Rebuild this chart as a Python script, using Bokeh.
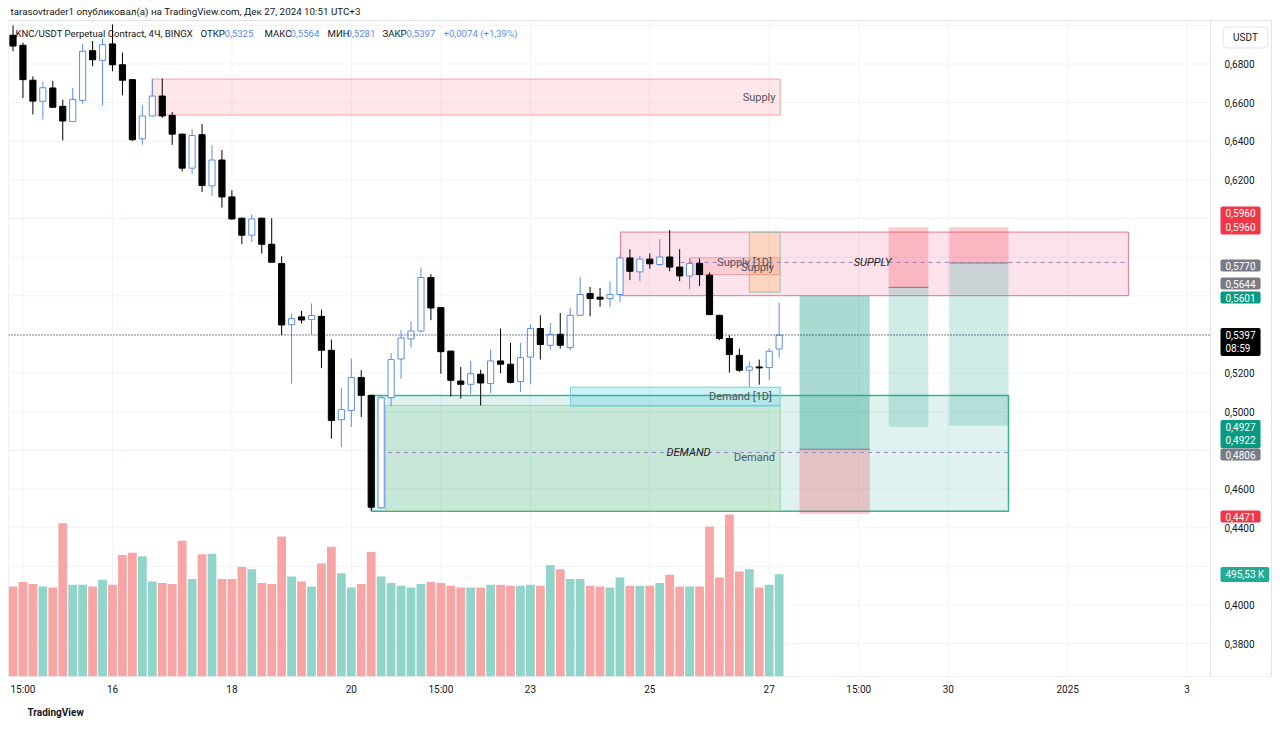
from bokeh.plotting import figure
from bokeh.models import (Range1d, FixedTicker, Label, ColumnDataSource, Title,
                          CustomJSTickFormatter)
from bokeh.embed import file_html
from bokeh.resources import INLINE

# ---------------- data ----------------
opens = [0.6949, 0.6897, 0.6716, 0.6607, 0.6676, 0.6581, 0.6503, 0.6612, 0.6869, 0.6819,
         0.6904, 0.6796, 0.6719, 0.6413, 0.6531, 0.6634, 0.6534, 0.6437, 0.6261, 0.6434,
         0.6169, 0.6303, 0.6112, 0.6002, 0.5914, 0.6002, 0.5867, 0.5767, 0.5451, 0.5491,
         0.5477, 0.5494, 0.5318, 0.4959, 0.5007, 0.5177, 0.5085, 0.4503, 0.5073, 0.5273,
         0.5377, 0.5418, 0.5695, 0.5539, 0.5314, 0.5159, 0.5142, 0.5194, 0.5146, 0.5263,
         0.5246, 0.5156, 0.5283, 0.5431, 0.5344, 0.5401, 0.5332, 0.5499, 0.5612, 0.5593,
         0.5586, 0.5607, 0.5796, 0.5724, 0.5790, 0.5762, 0.5801, 0.5749, 0.5703, 0.5767,
         0.5707, 0.5499, 0.5379, 0.5292, 0.5215, 0.5232, 0.5229, 0.5325]
highs = [0.7000, 0.6910, 0.6736, 0.6707, 0.6713, 0.6615, 0.6676, 0.6905, 0.6919, 0.6931,
         0.7005, 0.6859, 0.6722, 0.6586, 0.6724, 0.6724, 0.6551, 0.6440, 0.6462, 0.6489,
         0.6380, 0.6355, 0.6147, 0.6005, 0.6022, 0.6004, 0.6002, 0.5805, 0.5508, 0.5522,
         0.5560, 0.5529, 0.5374, 0.5125, 0.5275, 0.5215, 0.5088, 0.5085, 0.5304, 0.5422,
         0.5468, 0.5747, 0.5712, 0.5541, 0.5316, 0.5232, 0.5263, 0.5218, 0.5322, 0.5431,
         0.5356, 0.5356, 0.5453, 0.5499, 0.5460, 0.5511, 0.5539, 0.5698, 0.5646, 0.5641,
         0.5676, 0.5810, 0.5841, 0.5807, 0.5819, 0.5893, 0.5940, 0.5841, 0.5796, 0.5793,
         0.5721, 0.5502, 0.5396, 0.5327, 0.5261, 0.5270, 0.5330, 0.5564]
lows = [0.6866, 0.6624, 0.6539, 0.6513, 0.6572, 0.6405, 0.6499, 0.6594, 0.6788, 0.6586,
        0.6762, 0.6638, 0.6401, 0.6382, 0.6528, 0.6522, 0.6382, 0.6244, 0.6230, 0.6137,
        0.6118, 0.6057, 0.5995, 0.5867, 0.5879, 0.5819, 0.5772, 0.5397, 0.5146, 0.5457,
        0.5401, 0.5226, 0.4861, 0.4817, 0.4921, 0.4973, 0.4489, 0.4498, 0.5028, 0.5171,
        0.5332, 0.5410, 0.5474, 0.5197, 0.5080, 0.5068, 0.5090, 0.5033, 0.5097, 0.5200,
        0.5146, 0.5102, 0.5142, 0.5270, 0.5322, 0.5327, 0.5318, 0.5497, 0.5494, 0.5543,
        0.5543, 0.5568, 0.5681, 0.5676, 0.5741, 0.5755, 0.5727, 0.5676, 0.5634, 0.5651,
        0.5500, 0.5370, 0.5203, 0.5206, 0.5128, 0.5140, 0.5163, 0.5281]
closes = [0.6893, 0.6719, 0.6608, 0.6677, 0.6576, 0.6505, 0.6617, 0.6866, 0.6822, 0.6900,
          0.6796, 0.6716, 0.6408, 0.6531, 0.6634, 0.6531, 0.6437, 0.6261, 0.6430, 0.6171,
          0.6303, 0.6112, 0.5998, 0.5914, 0.5998, 0.5867, 0.5774, 0.5449, 0.5482, 0.5475,
          0.5498, 0.5318, 0.4955, 0.5011, 0.5177, 0.5085, 0.4506, 0.5073, 0.5270, 0.5382,
          0.5418, 0.5695, 0.5537, 0.5311, 0.5163, 0.5142, 0.5197, 0.5149, 0.5263, 0.5246,
          0.5152, 0.5280, 0.5431, 0.5348, 0.5401, 0.5344, 0.5499, 0.5607, 0.5586, 0.5583,
          0.5607, 0.5796, 0.5727, 0.5790, 0.5766, 0.5801, 0.5749, 0.5703, 0.5767, 0.5710,
          0.5503, 0.5379, 0.5296, 0.5215, 0.5232, 0.5227, 0.5313, 0.5397]
volumes_k = [436.5, 457.3, 447.7, 436.5, 431.7, 741.9, 444.5, 444.5, 436.5, 468.5,
             444.5, 588.4, 599.6, 582.0, 460.5, 452.5, 447.7, 657.2, 471.7, 591.6,
             594.8, 471.7, 471.7, 530.8, 519.6, 452.5, 447.7, 678.0, 484.5, 460.5,
             436.5, 546.9, 628.4, 500.4, 431.7, 447.7, 602.9, 484.5, 452.5, 439.7,
             431.7, 447.7, 457.3, 452.5, 439.7, 431.7, 431.7, 431.7, 444.5, 444.5,
             439.7, 439.7, 444.5, 439.7, 540.5, 519.6, 471.7, 471.7, 439.7, 436.5,
             431.7, 479.7, 439.7, 439.7, 439.7, 452.5, 492.5, 436.5, 436.5, 436.5,
             726.0, 479.7, 785.1, 508.5, 519.6, 431.7, 444.5, 495.53]

time_tick_idx = [1, 10, 22, 34, 43, 52, 64, 76, 85, 94, 106, 118]
time_tick_labels = ["15:00", "16", "18", "20", "15:00", "23", "25", "27", "15:00", "30", "2025", "3"]
price_label_ticks = [0.38, 0.40, 0.44, 0.46, 0.50, 0.52, 0.62, 0.64, 0.66, 0.68]
price_grid_ticks = [0.38, 0.40, 0.42, 0.44, 0.46, 0.48, 0.50, 0.52, 0.54, 0.56, 0.58,
                    0.60, 0.62, 0.64, 0.66, 0.68, 0.70]

last_price = 0.5397

# zones: (left idx, right idx, bottom price, top price)
supply_htf = (14.0, 77.1, 0.6536, 0.6722)
supply_main = (61.06, 112.1, 0.5601, 0.5930)
supply_1d = (68.1, 77.1, 0.5710, 0.5797)
supply_orange = (74.0, 77.1, 0.5619, 0.5929)
supply_mid = (67.1, 112.1, 0.5773)
demand_main = (36.03, 100.05, 0.4485, 0.5084)
demand_inner = (37.44, 77.1, 0.4489, 0.5033)
demand_1d = (56.03, 77.1, 0.5029, 0.5127)
demand_mid = (37.7, 100.05, 0.4789)

# position tools: (left idx, right idx, stop, entry, target)
long_pos = (79.05, 86.1, 0.4471, 0.4806, 0.5601)
short_pos_1 = (88.0, 92.0, 0.5955, 0.5644, 0.4922)
short_pos_2 = (94.1, 100.05, 0.5955, 0.5770, 0.4927)

# ---------------- helpers for annotation placement ----------------
def px2x(px):
    return (px - 12.5) / 9.95

def py2y(py):
    return 0.68 - (py - 63.5) / 1932.0

FONT = "Roboto"
BULL = "#5b8def"
LINE = "#e0e3eb"

# plot frame spans page x 8..1280 and y 0..676 (price scale drawn inside on the right)
p = figure(width=1280, height=729, output_backend="svg", toolbar_location=None,
           x_range=Range1d(px2x(8), px2x(1280)), y_range=Range1d(py2y(676), py2y(0)),
           y_axis_location="right", min_border_left=8, min_border_right=0,
           min_border_top=0, min_border_bottom=53)
p.background_fill_color = "white"
p.border_fill_color = "white"
p.outline_line_color = None
p.xgrid.visible = False
p.ygrid.visible = False

p.extra_y_ranges = {"vol": Range1d(0, 495.53 * 676 / 102.3)}

X_L, X_R, X_AX, X_END = px2x(8), px2x(1210), px2x(1210), px2x(1271)
Y_TOP, Y_BOT = py2y(20), py2y(676)

# grid lines (chart pane only)
p.segment(x0=[X_L] * len(price_grid_ticks), x1=[X_R] * len(price_grid_ticks),
          y0=price_grid_ticks, y1=price_grid_ticks, line_color="#f0f3fa", line_width=1)
p.segment(x0=time_tick_idx, x1=time_tick_idx, y0=[Y_BOT] * len(time_tick_idx),
          y1=[Y_TOP] * len(time_tick_idx), line_color="#f0f3fa", line_width=1)

# pane borders
p.segment(x0=[X_L, X_L, X_AX, X_END, X_L], x1=[X_END, X_END, X_AX, X_END, X_L],
          y0=[Y_TOP, Y_BOT, Y_TOP, Y_TOP, Y_TOP], y1=[Y_TOP, Y_BOT, Y_BOT, Y_BOT, Y_BOT],
          line_color=LINE, line_width=1)

# axes
ya = p.yaxis[0]
ya.ticker = FixedTicker(ticks=price_label_ticks)
ya.formatter = CustomJSTickFormatter(code="return tick.toFixed(4).replace('.', ',');")
ya.axis_line_color = None
ya.major_tick_line_color = None
ya.minor_tick_line_color = None
ya.major_tick_out = 0
ya.major_tick_in = 0
ya.major_label_standoff = -56
ya.major_label_text_font = FONT
ya.major_label_text_font_size = "10px"
ya.major_label_text_color = "#131722"

xa = p.xaxis[0]
xa.ticker = FixedTicker(ticks=time_tick_idx)
xa.major_label_overrides = {t: l for t, l in zip(time_tick_idx, time_tick_labels)}
xa.axis_line_color = None
xa.major_tick_line_color = None
xa.minor_tick_line_color = None
xa.major_tick_out = 0
xa.major_tick_in = 0
xa.major_label_standoff = 7
xa.major_label_text_font = FONT
xa.major_label_text_font_size = "10px"
xa.major_label_text_color = "#131722"

# ---------------- zones ----------------
def box(z, fill, alpha, line, lw=1):
    p.quad(left=z[0], right=z[1], bottom=z[2], top=z[3], fill_color=fill, fill_alpha=alpha,
           line_color=line, line_width=lw)

box(supply_htf, "#f23645", 0.12, "#f4a3a8")
box(supply_main, "#e91e63", 0.13, "#e57a93")
box(demand_main, "#089981", 0.13, "#3fae95", 1.5)
box(demand_inner, "#4caf50", 0.15, "#9fd0b0")
box(demand_1d, "#00bcd4", 0.2, "#74d3dd")
box(supply_1d, "#f23645", 0.12, "#f0a0a8")
box(supply_orange, "#ff9800", 0.18, "#9fc2b2")

# position tools
def position(pos, long_side):
    l, r, stop, entry, target = pos
    p.quad(left=l, right=r, bottom=min(entry, target), top=max(entry, target),
           fill_color="#089981", fill_alpha=0.35 if long_side else 0.2, line_color=None)
    p.quad(left=l, right=r, bottom=min(entry, stop), top=max(entry, stop),
           fill_color="#f23645", fill_alpha=0.25, line_color=None)
    p.segment(x0=l, x1=r, y0=entry, y1=entry, line_color="#787b86", line_width=1)

position(long_pos, True)
position(short_pos_1, False)
position(short_pos_2, False)

# dashed mid lines
p.segment(x0=supply_mid[0], x1=supply_mid[1], y0=supply_mid[2], y1=supply_mid[2],
          line_color="#a17fb8", line_dash="4 4", line_width=1)
p.segment(x0=demand_mid[0], x1=demand_mid[1], y0=demand_mid[2], y1=demand_mid[2],
          line_color="#9a86b8", line_dash="4 4", line_width=1)

# ---------------- volume ----------------
idx = list(range(len(opens)))
vol_color = ["#90d4ca" if c >= o else "#f7a5a5" for o, c in zip(opens, closes)]
p.vbar(x=idx, top=volumes_k, bottom=0, width=0.88, fill_color=vol_color, line_color=None,
       y_range_name="vol")

# ---------------- candles ----------------
bull = [i for i in idx if closes[i] >= opens[i]]
bear = [i for i in idx if closes[i] < opens[i]]
src_bull = ColumnDataSource(dict(x=bull, h=[highs[i] for i in bull], l=[lows[i] for i in bull],
                                 t=[closes[i] for i in bull], b=[opens[i] for i in bull]))
src_bear = ColumnDataSource(dict(x=bear, h=[highs[i] for i in bear], l=[lows[i] for i in bear],
                                 t=[opens[i] for i in bear], b=[closes[i] for i in bear]))
p.segment(x0="x", x1="x", y0="l", y1="h", source=src_bull, line_color=BULL, line_width=1)
p.segment(x0="x", x1="x", y0="l", y1="h", source=src_bear, line_color="black", line_width=1)
p.vbar(x="x", top="t", bottom="b", width=0.62, source=src_bull, fill_color="white",
       line_color=BULL, line_width=1)
p.vbar(x="x", top="t", bottom="b", width=0.62, source=src_bear, fill_color="black",
       line_color="black", line_width=1)

# last price dotted line
p.segment(x0=X_L, x1=X_R, y0=last_price, y1=last_price, line_color="#131722",
          line_dash="1 2", line_width=1)

# ---------------- texts ----------------
def lab(px, py, text, color="#131722", size="10px", align="left", style="normal", **kw):
    p.add_layout(Label(x=px2x(px), y=py2y(py), text=text, text_color=color, text_font=FONT,
                       text_font_size=size, text_align=align, text_baseline="middle",
                       text_font_style=style, **kw))

lab(10, 11, "tarasovtrader1 опубликовал(а) на TradingView.com, Дек 27, 2024 10:51 UTC+3",
    size="9.8px")
lab(15, 33, "KNC/USDT Perpetual Contract, 4Ч, BINGX", size="9.6px")
hdr = [(200, "ОТКР", "#131722"), (224, "0,5325", BULL), (264, "МАКС", "#131722"),
       (290, "0,5564", BULL), (327, "МИН", "#131722"), (346, "0,5281", BULL),
       (382, "ЗАКР", "#131722"), (406, "0,5397", BULL), (443, "+0,0074 (+1,39%)", BULL)]
for hx, ht, hc in hdr:
    lab(hx, 33, ht, color=hc, size="9.6px")

lab(775, 97, "Supply", color="#50535e", size="11px", align="right")
lab(744, 262, "Supply [1D]", color="#50535e", size="11px", align="center")
lab(757, 267, "Supply", color="#50535e", size="11px", align="center")
lab(872, 262, "SUPPLY", color="#222222", size="11px", align="center", style="italic")
lab(740, 396, "Demand [1D]", color="#50535e", size="11px", align="center")
lab(688, 452, "DEMAND", color="#222222", size="11px", align="center", style="italic")
lab(754, 457, "Demand", color="#50535e", size="11px", align="center")

# price scale tags
tags = [(220, "0,5960\n0,5960", "#f23645"), (265, "0,5770", "#787b86"),
        (283, "0,5644", "#787b86"), (297, "0,5601", "#089981"),
        (341.5, "0,5397\n08:59", "#000000"), (433.7, "0,4927\n0,4922", "#089981"),
        (454, "0,4806", "#787b86"), (516, "0,4471", "#f23645"), (574, "495,53 K", "#22ab94")]
for ty, tt, tc in tags:
    lab(1220, ty, tt, color="white", background_fill_color=tc,
        padding=dict(left=5, right=5, top=2, bottom=2), border_radius=2)

lab(1245, 37, "USDT", color="#131722", align="center", background_fill_color="white",
    border_line_color=LINE, padding=dict(left=10, right=10, top=5, bottom=5),
    border_radius=4)

p.add_layout(Title(text="TradingView", align="left", offset=19, text_font=FONT,
                   text_font_size="10px", text_font_style="bold", text_color="#131722",
                   standoff=15), "below")

open("out.html", "w").write(file_html(p, INLINE))
